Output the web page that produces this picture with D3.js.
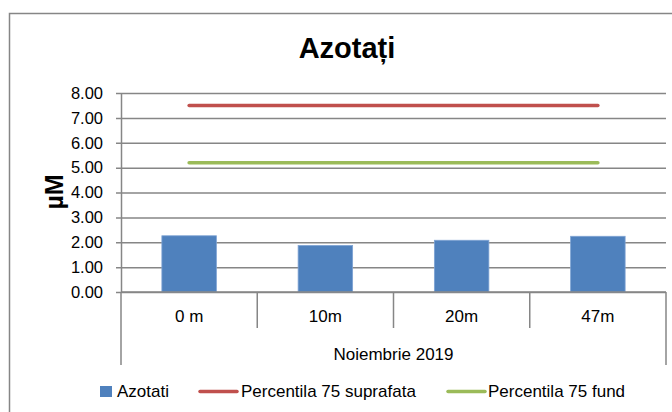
<!DOCTYPE html>
<html>
<head>
<meta charset="utf-8">
<script src="https://cdn.jsdelivr.net/npm/d3@7"></script>
<style>
  body { margin: 0; background: #fff; }
  text { font-family: "Liberation Sans", Arial, sans-serif; fill: #000; }
</style>
</head>
<body>
<div id="chart"></div>
<script>
// data
let categories = ['0 m', '10m', '20m', '47m'];
let azotati = [2.26, 1.87, 2.08, 2.24];
let percSuprafata = [7.5, 7.5, 7.5, 7.5];
let percFund = [5.2, 5.2, 5.2, 5.2];
let yTicks = [0, 1, 2, 3, 4, 5, 6, 7, 8];
let groupLabel = 'Noiembrie 2019';

let svgWidth = 672;
let svgHeight = 412;

// plot area
let plot = { left: 121, right: 666, top: 93, bottom: 292 };
let gridColor = '#868686';

let svg = d3.select('#chart').append('svg')
  .attr('width', svgWidth)
  .attr('height', svgHeight);

// outer frame (runs past the picture edge)
svg.append('rect')
  .attr('x', 9.5).attr('y', 13.5)
  .attr('width', 690).attr('height', 430)
  .attr('fill', 'none')
  .attr('stroke', gridColor)
  .attr('stroke-width', 1.5);

// title
svg.append('text')
  .attr('x', 347).attr('y', 58)
  .attr('text-anchor', 'middle')
  .attr('font-size', '29px')
  .attr('font-weight', 'bold')
  .text('Azotați');

let x = d3.scaleBand()
  .domain(categories)
  .range([plot.left, plot.right])
  .padding(0);

let y = d3.scaleLinear()
  .domain([0, 8])
  .range([plot.bottom, plot.top]);

// gridlines + y axis
let leftAxis = d3.axisLeft(y)
  .tickValues(yTicks)
  .tickSize(-(plot.right - plot.left))
  .tickSizeOuter(0)
  .tickPadding(18)
  .tickFormat(d3.format('.2f'));

let yAxis = svg.append('g')
  .attr('transform', `translate(${plot.left}, 0)`)
  .call(leftAxis);
yAxis.select('.domain').attr('stroke', gridColor).attr('stroke-width', 1.5);
yAxis.selectAll('.tick line')
  .attr('x1', -5)
  .attr('stroke', gridColor)
  .attr('stroke-width', 1.5);
yAxis.selectAll('.tick text')
  .attr('font-size', '16.5px')
  .attr('font-family', '"Liberation Sans", Arial, sans-serif')
  .attr('fill', '#000');

// y label
svg.append('text')
  .attr('transform', 'translate(63, 192) rotate(-90)')
  .attr('text-anchor', 'middle')
  .attr('font-size', '25px')
  .attr('font-weight', 'bold')
  .text('µM');

// bars
let bw = x.bandwidth() * 0.4;
svg.selectAll('.bar')
  .data(categories)
  .enter()
  .append('rect')
  .attr('x', (d) => x(d) + (x.bandwidth() - bw) / 2)
  .attr('y', (d, i) => y(azotati[i]))
  .attr('width', bw)
  .attr('height', (d, i) => y(0) - y(azotati[i]))
  .attr('fill', '#4F81BD')
  .attr('stroke', '#7EA3D3')
  .attr('stroke-width', 0.8);

// percentile lines
let line = d3.line()
  .x((d, i) => x(categories[i]) + x.bandwidth() / 2)
  .y((d) => y(d));

svg.append('path')
  .datum(percSuprafata)
  .attr('d', line)
  .attr('fill', 'none')
  .attr('stroke', '#C0504D')
  .attr('stroke-width', 3.5)
  .attr('stroke-linecap', 'round');

svg.append('path')
  .datum(percFund)
  .attr('d', line)
  .attr('fill', 'none')
  .attr('stroke', '#9BBB59')
  .attr('stroke-width', 3.5)
  .attr('stroke-linecap', 'round');

// x axis line
svg.append('line')
  .attr('x1', plot.left).attr('x2', plot.right)
  .attr('y1', plot.bottom).attr('y2', plot.bottom)
  .attr('stroke', gridColor).attr('stroke-width', 1.5);

// category dividers
let inner = categories.slice(1).map((c) => x(c));
svg.selectAll('.divider')
  .data(inner)
  .enter()
  .append('line')
  .attr('x1', (d) => d).attr('x2', (d) => d)
  .attr('y1', plot.bottom).attr('y2', 328)
  .attr('stroke', gridColor).attr('stroke-width', 1.5);

svg.selectAll('.outer')
  .data(x.range())
  .enter()
  .append('line')
  .attr('x1', (d) => d).attr('x2', (d) => d)
  .attr('y1', plot.bottom).attr('y2', 365)
  .attr('stroke', gridColor).attr('stroke-width', 1.5);

// category labels
svg.selectAll('.catLabel')
  .data(categories)
  .enter()
  .append('text')
  .attr('x', (d) => x(d) + x.bandwidth() / 2)
  .attr('y', 322)
  .attr('text-anchor', 'middle')
  .attr('font-size', '17px')
  .text((d) => d);

svg.append('text')
  .attr('x', (plot.left + plot.right) / 2)
  .attr('y', 360)
  .attr('text-anchor', 'middle')
  .attr('font-size', '17px')
  .text(groupLabel);

// legend
let legend = svg.append('g');
legend.append('rect')
  .attr('x', 100).attr('y', 386)
  .attr('width', 12).attr('height', 11)
  .attr('fill', '#4F81BD');
legend.append('text')
  .attr('x', 117).attr('y', 397)
  .attr('font-size', '17px')
  .text('Azotati');

legend.append('line')
  .attr('x1', 200).attr('x2', 237)
  .attr('y1', 391.5).attr('y2', 391.5)
  .attr('stroke', '#C0504D').attr('stroke-width', 3.5)
  .attr('stroke-linecap', 'round');
legend.append('text')
  .attr('x', 241).attr('y', 397)
  .attr('font-size', '17px')
  .text('Percentila 75 suprafata');

legend.append('line')
  .attr('x1', 448).attr('x2', 485)
  .attr('y1', 391.5).attr('y2', 391.5)
  .attr('stroke', '#9BBB59').attr('stroke-width', 3.5)
  .attr('stroke-linecap', 'round');
legend.append('text')
  .attr('x', 488).attr('y', 397)
  .attr('font-size', '17px')
  .text('Percentila 75 fund');
</script>
</body>
</html>
